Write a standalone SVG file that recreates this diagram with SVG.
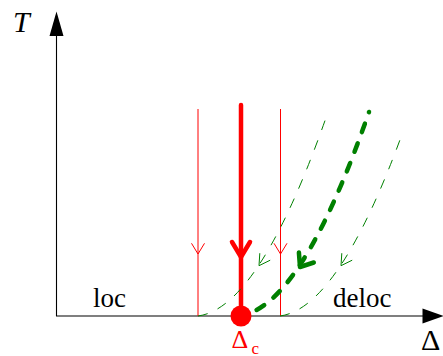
<svg xmlns="http://www.w3.org/2000/svg" width="443" height="356" viewBox="0 0 443 356">
<style>
.axis{stroke:#000;stroke-width:1.1;fill:none}
.lbl{font-family:"Liberation Serif","Times New Roman","DejaVu Serif",serif;fill:#000}
.red{fill:#f00}
.rthin{stroke:#f00;stroke-width:1;fill:none}
.rthick{stroke:#f00;stroke-width:4.5;fill:none;stroke-linecap:round;stroke-linejoin:round}
.gthin{stroke:#008000;stroke-width:1;fill:none;stroke-dasharray:10 11}
.gthick{stroke:#008000;stroke-width:4.5;fill:none;stroke-linecap:round;stroke-dasharray:9 12;stroke-dashoffset:2.25}
.gahead{stroke:#008000;stroke-width:1;fill:none}
.gaheadT{stroke:#008000;stroke-width:4.5;fill:none;stroke-linecap:round;stroke-linejoin:round}
</style>
<rect width="443" height="356" fill="#fff"/>
<g id="axes">
  <line class="axis" x1="56.5" y1="316" x2="56.5" y2="34"/>
  <polygon points="56.5,11.5 49.5,36 63.5,36" fill="#000"/>
  <line class="axis" x1="56" y1="316" x2="424" y2="316"/>
  <polygon points="444,316 422.5,308.5 422.5,323.5" fill="#000"/>
  <text class="lbl" x="13" y="32" font-size="30" font-style="italic">T</text>
  <text class="lbl" x="421" y="350" font-size="30">Δ</text>
  <text class="lbl" x="93" y="307" font-size="27">loc</text>
  <text class="lbl" x="333" y="307" font-size="27">deloc</text>
</g>
<g id="connectors">
  <g id="red-lines">
    <line class="rthin" x1="198" y1="109" x2="198" y2="316"/>
    <polyline class="rthin" points="191.5,243.3 198,254 204.5,243.3"/>
    <line class="rthin" x1="280.5" y1="109" x2="280.5" y2="316"/>
    <polyline class="rthin" points="274,243.3 280.5,254 287,243.3"/>
    <line class="rthick" x1="241" y1="105" x2="241" y2="316"/>
    <polyline class="rthick" points="232,242 241,257 250,242"/>
  </g>
  <g id="green-curves">
    <path class="gthin" d="M198,316 Q260,308 328,112"/>
    <polyline class="gahead" points="259.8,253.2 259,265.7 270.2,260.2"/>
    <path class="gthick" d="M239,316 Q301,308 369,112"/>
    <polyline class="gaheadT" points="298.9,252.5 300,267 313.8,262.5"/>
    <path class="gthin" d="M280,316 Q338.6,308.4 402.5,133"/>
    <polyline class="gahead" points="341.8,253.2 341,265.7 352.2,260.2"/>
  </g>
</g>
<g id="critical-point">
  <circle class="red" cx="241" cy="316" r="10.5"/>
  <text class="lbl" x="231.5" y="348" font-size="26" style="fill:#f00">Δ</text>
  <text class="lbl" x="251.5" y="353.5" font-size="17" style="fill:#f00">c</text>
</g>
</svg>
